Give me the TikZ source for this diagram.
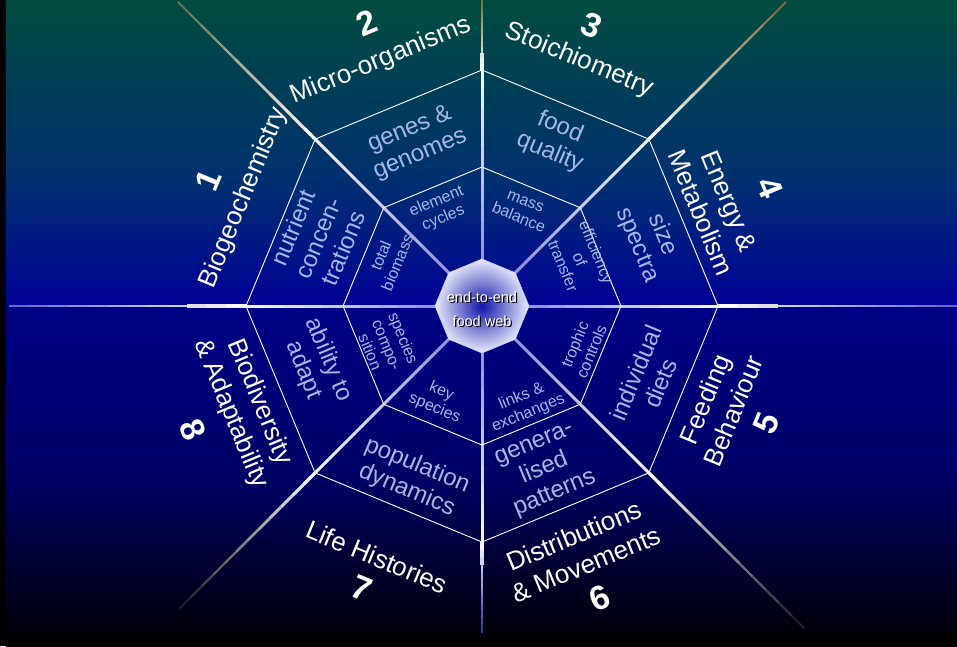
\documentclass[tikz,border=0pt]{standalone}
\usepackage{fontspec}
\setmainfont{Liberation Sans}
\usepackage{xcolor}
\usepackage{tikz}
\usetikzlibrary{shapes.geometric,positioning}

\definecolor{bgtop}{RGB}{0,76,62}
\definecolor{bgupper}{RGB}{0,48,112}
\definecolor{bgmid}{RGB}{0,0,150}
\definecolor{bglower}{RGB}{0,0,135}
\definecolor{bgdeep}{RGB}{0,0,100}
\definecolor{labelblue}{RGB}{165,185,232}
\definecolor{spklav}{RGB}{150,150,222}
\definecolor{spkolive}{RGB}{105,105,60}
\definecolor{spkblue}{RGB}{95,95,205}
\definecolor{spkdark}{RGB}{20,20,30}
\definecolor{spkdeep}{RGB}{40,40,170}
\definecolor{hubblue}{RGB}{20,20,170}
\definecolor{hublight}{RGB}{232,236,252}

\begin{document}
\begin{tikzpicture}[x=1pt, y=1pt,
    % Styles for the web of research themes
    outerlabel/.style={text=white, align=center, font=\fontsize{26}{31}\selectfont},
    numlabel/.style={text=white, font=\bfseries\fontsize{34}{36}\selectfont},
    midlabel/.style={text=labelblue, align=center, font=\fontsize{24}{27}\selectfont},
    innerlabel/.style={text=labelblue, align=center, font=\fontsize{16}{18}\selectfont},
    ringline/.style={draw=white, line width=0.9pt},
    hubshape/.style={regular polygon, regular polygon sides=8, shape border rotate=22.5, minimum size=94pt, inner sep=0pt, inner color=hubblue, outer color=hublight, draw=white!80!blue, line width=0.6pt},
    hubtext/.style={text=white, align=center, font=\fontsize{14.5}{24}\selectfont}]

    \useasboundingbox (-482,-340) rectangle (475,306);

    % Background: teal at the top, blue in the middle, black at the bottom
    \fill[black] (-482,-340) rectangle (475,306);
    \shade[top color=bgtop, bottom color=bgupper] (-476,306) rectangle (475,126);
    \shade[top color=bgupper, bottom color=bgmid] (-476,126) rectangle (475,0);
    \shade[top color=bglower, bottom color=bgdeep] (-476,0) rectangle (475,-174);
    \shade[top color=bgdeep, bottom color=black] (-476,-174) rectangle (475,-340);

    % Spokes: lavender near the hub, white at the outer ring, fading to the tip
    \foreach \ang/\len/\tip in {0/475/spkblue, 45/430/spkolive, 90/306/spkolive, 135/430/spkolive,
                                180/473/spkblue, 225/428/spkdark, 270/327/spkdeep, 315/456/spkdark} {
      \foreach \k in {0,...,9} {
        \pgfmathsetmacro\ra{46+19*\k}
        \pgfmathsetmacro\rb{46+19*(\k+1)}
        \pgfmathtruncatemacro\pc{10*\k}
        \draw[line width=3pt, color=white!\pc!spklav] (\ang:\ra) -- (\ang:\rb);
      }
      \foreach \k in {0,...,11} {
        \pgfmathsetmacro\ra{236+(\len-236)*\k/12}
        \pgfmathsetmacro\rb{236+(\len-236)*(\k+1)/12}
        \pgfmathtruncatemacro\pc{100*(\k+0.5)/12}
        \pgfmathsetmacro\lw{3.3-0.12*\k}
        \draw[line width=\lw pt, color=\tip!\pc!white] (\ang:\ra) -- (\ang:\rb);
      }
    }

    % Rings of the web
    \draw[ringline] (0:236) \foreach \ang in {45,90,...,315} {-- (\ang:236)} -- cycle;
    \draw[ringline] (0:139) \foreach \ang in {45,90,...,315} {-- (\ang:139)} -- cycle;

    % Node: hub
    \node[hubshape] (hub) at (0,0) {};
    \node[hubtext, text=black] (hubshadow) at (1.2,-4.7) {end-to-end\\food web};
    \node[hubtext] (hublabel) at (0,-3.5) {end-to-end\\food web};

    % Inner ring labels
    \node[innerlabel, rotate=22.5] (cycles) at (-42,96) {element\\cycles};
    \node[innerlabel, rotate=-22.5] (massbal) at (40,96) {mass\\balance};
    \node[innerlabel, rotate=-67.5] (effic) at (98,47) {efficiency\\of\\transfer};
    \node[innerlabel, rotate=67.5] (trophic) at (101,-42) {trophic\\controls};
    \node[innerlabel, rotate=22.5] (links) at (43,-99) {links \&\\exchanges};
    \node[innerlabel, rotate=-22.5] (keysp) at (-44,-94) {key\\species};
    \node[innerlabel, rotate=-67.5] (specomp) at (-95,-39) {species\\compo-\\sition};
    \node[innerlabel, rotate=67.5] (biomass) at (-93,47) {total\\biomass};

    % Middle ring labels
    \node[midlabel, rotate=22.5] (genes) at (-67,164) {genes \&\\genomes};
    \node[midlabel, rotate=-22.5] (quality) at (73,166) {food\\quality};
    \node[midlabel, rotate=-67.5] (spectra) at (168,66) {size\\spectra};
    \node[midlabel, rotate=67.5] (diets) at (166,-72) {individual\\diets};
    \node[midlabel, rotate=22.5] (patterns) at (63,-164) {genera-\\lised\\patterns};
    \node[midlabel, rotate=-22.5] (popdyn) at (-70,-172) {population\\dynamics};
    \node[midlabel, rotate=-67.5] (adapt) at (-166,-59) {ability to\\adapt};
    \node[midlabel, rotate=67.5] (nutrient) at (-164,68) {nutrient\\concen-\\trations};

    % Outer themes
    \node[outerlabel, rotate=67.5] (biogeo) at (-238,108) {Biogeochemistry};
    \node[outerlabel, rotate=22.5] (micro) at (-101,245) {Micro-organisms};
    \node[outerlabel, rotate=-22.5] (stoich) at (97,246) {Stoichiometry};
    \node[outerlabel, rotate=-67.5] (energy) at (233,99) {Energy \&\\Metabolism};
    \node[outerlabel, rotate=67.5] (feeding) at (237,-99) {Feeding\\Behaviour};
    \node[outerlabel, rotate=22.5] (distrib) at (98,-244) {Distributions\\\& Movements};
    \node[outerlabel, rotate=-22.5] (life) at (-105,-251) {Life Histories};
    \node[outerlabel, rotate=-67.5] (biodiv) at (-237,-102) {Biodiversity\\\& Adaptability};

    % Theme numbers
    \node[numlabel, rotate=67.5] (num1) at (-274,126) {1};
    \node[numlabel, rotate=22.5] (num2) at (-115,283) {2};
    \node[numlabel, rotate=-22.5] (num3) at (110,281) {3};
    \node[numlabel, rotate=-67.5] (num4) at (288,118) {4};
    \node[numlabel, rotate=67.5] (num5) at (284,-117) {5};
    \node[numlabel, rotate=22.5] (num6) at (118,-292) {6};
    \node[numlabel, rotate=-22.5] (num7) at (-120,-282) {7};
    \node[numlabel, rotate=-67.5] (num8) at (-289,-124) {8};

\end{tikzpicture}
\end{document}
